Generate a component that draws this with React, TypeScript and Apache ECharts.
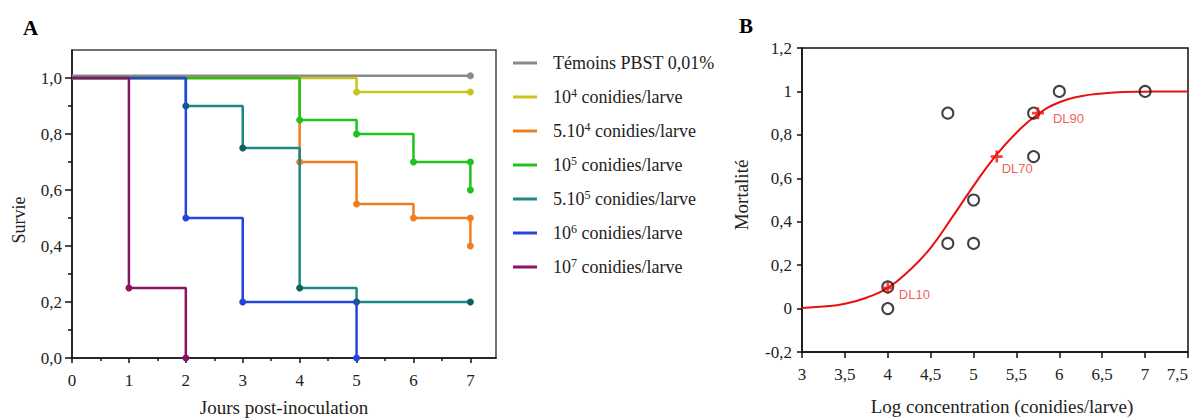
import React, { useEffect, useRef } from "react";
import * as echarts from "echarts";

// ---------- Panel A : survival ----------
const legendBase = ["Témoins PBST 0,01%", "10", "5.10", "10", "5.10", "10", "10"];
const legendExp = ["", "4", "4", "5", "5", "6", "7"];
const legendSuffix = ["", " conidies/larve", " conidies/larve", " conidies/larve", " conidies/larve", " conidies/larve", " conidies/larve"];
const seriesNames = [
  "Témoins PBST 0,01%",
  "10^4 conidies/larve",
  "5.10^4 conidies/larve",
  "10^5 conidies/larve",
  "5.10^5 conidies/larve",
  "10^6 conidies/larve",
  "10^7 conidies/larve",
];
const lineColors = ["#8a8a8a", "#cbc31e", "#f07e1e", "#1fc21f", "#1f8686", "#2345dc", "#8c1262"];
const dotColors = ["#8a8a8a", "#cbc31e", "#f07e1e", "#1fc21f", "#0f5f5f", "#2345dc", "#8c1262"];
const zOrder = [2, 3, 4, 6, 5, 7, 8];

const temoins = [[0, 1.008], [7, 1.008]];
const c1e4 = [[0, 1], [5, 0.95], [7, 0.95]];
const c5e4 = [[0, 1], [4, 0.7], [5, 0.55], [6, 0.5], [7, 0.5], [7, 0.4]];
const c1e5 = [[0, 1], [4, 0.85], [5, 0.8], [6, 0.7], [7, 0.7], [7, 0.6]];
const c5e5 = [[0, 1], [2, 0.9], [3, 0.75], [4, 0.25], [5, 0.2], [7, 0.2]];
const c1e6 = [[0, 1], [2, 0.5], [3, 0.2], [5, 0]];
const c1e7 = [[0, 1], [1, 0.25], [2, 0]];
const survivalData = [temoins, c1e4, c5e4, c1e5, c5e5, c1e6, c1e7];

const dayTicks = [0, 1, 2, 3, 4, 5, 6, 7];
const dayMinorTicks = [0.5, 1.5, 2.5, 3.5, 4.5, 5.5, 6.5];
const survieTicks = [0, 0.2, 0.4, 0.6, 0.8, 1.0];
const survieMinorTicks = [0.1, 0.3, 0.5, 0.7, 0.9];

// ---------- Panel B : dose-response ----------
const obsLog = [4, 4, 4.7, 4.7, 5, 5, 5.7, 5.7, 6, 7];
const obsMort = [0.1, 0, 0.9, 0.3, 0.5, 0.3, 0.9, 0.7, 1, 1];
const curveLog = [3, 3.25, 3.5, 3.75, 4, 4.25, 4.5, 4.75, 5, 5.25, 5.5, 5.75, 6, 6.25, 6.5, 6.75, 7, 7.25, 7.5];
const curveMort = [0.003, 0.009, 0.022, 0.05, 0.095, 0.175, 0.28, 0.42, 0.565, 0.7, 0.81, 0.895, 0.95, 0.978, 0.991, 0.997, 0.999, 1, 1];
const dlNames = ["DL10", "DL70", "DL90"];
const dlLog = [4.0, 5.27, 5.75];
const dlMort = [0.095, 0.7, 0.9];
const dlLabelOffsets = [[0, 7], [-6, 12], [4, 5]];

const SERIF = "Liberation Serif";
const SANS = "Liberation Sans";

const comma = (v: number) => String(+v.toFixed(2)).replace(".", ",");

export default function App() {
  const ref = useRef<HTMLDivElement>(null);
  useEffect(() => {
    if (!ref.current) return;
    const chart = echarts.init(ref.current, null, { renderer: "svg" });

    const survSeries = survivalData.map((pts, i) => ({
      type: "line",
      name: seriesNames[i],
      xAxisIndex: 0,
      yAxisIndex: 0,
      step: "end",
      z: zOrder[i],
      symbol: "circle",
      symbolSize: 7,
      showSymbol: true,
      lineStyle: { color: lineColors[i], width: 2.5 },
      itemStyle: { color: dotColors[i] },
      data: pts.map((p, j) => ({ value: p, symbol: j === 0 ? "none" : "circle" })),
    }));

    const axisLineStyle = { color: "#111", width: 1.5 };

    const option: any = {
      animation: false,
      backgroundColor: "#fff",
      textStyle: { fontFamily: SERIF, fontSize: 17 },
      grid: [
        { left: 72, top: 50, width: 424, height: 308, show: true, borderColor: "#444", borderWidth: 1.5 },
        { left: 802, top: 48, width: 386, height: 304, show: true, borderColor: "#111", borderWidth: 1.5 },
      ],
      xAxis: [
        {
          type: "value", gridIndex: 0, position: "bottom", min: 0, max: 7.45, interval: 1,
          axisLine: { show: true, onZero: false, lineStyle: axisLineStyle },
          axisTick: { show: true, length: 5, customValues: dayTicks, lineStyle: axisLineStyle },
          axisLabel: {
            fontFamily: SERIF, fontSize: 17, color: "#222",
            margin: 14, customValues: dayTicks, formatter: (v: number) => String(v),
          },
          splitLine: { show: false },
        },
        {
          type: "value", gridIndex: 0, position: "bottom", min: 0, max: 7.45,
          axisLine: { show: false },
          axisTick: { show: true, length: 3, customValues: dayMinorTicks, lineStyle: axisLineStyle },
          axisLabel: { show: false },
          splitLine: { show: false },
        },
        {
          type: "value", gridIndex: 1, position: "bottom", min: 3, max: 7.5, interval: 0.5,
          axisLine: { show: true, onZero: false, lineStyle: axisLineStyle },
          axisTick: { show: true, length: 6, lineStyle: axisLineStyle },
          axisLabel: {
            fontFamily: SERIF, fontSize: 17, color: "#222",
            margin: 14, formatter: comma, alignMaxLabel: "right",
          },
          splitLine: { show: false },
        },
      ],
      yAxis: [
        {
          type: "value", gridIndex: 0, position: "left", min: 0, max: 1.1, interval: 0.2,
          axisLine: { show: true, onZero: false, lineStyle: axisLineStyle },
          axisTick: { show: true, length: 7, customValues: survieTicks, lineStyle: axisLineStyle },
          axisLabel: {
            fontFamily: SERIF, fontSize: 17, color: "#222",
            margin: 10, customValues: survieTicks, formatter: (v: number) => v.toFixed(1).replace(".", ","),
          },
          splitLine: { show: false },
        },
        {
          type: "value", gridIndex: 0, position: "left", min: 0, max: 1.1,
          axisLine: { show: false },
          axisTick: { show: true, length: 4, customValues: survieMinorTicks, lineStyle: axisLineStyle },
          axisLabel: { show: false },
          splitLine: { show: false },
        },
        {
          type: "value", gridIndex: 1, position: "left", min: -0.2, max: 1.2, interval: 0.2,
          axisLine: { show: true, onZero: false, lineStyle: axisLineStyle },
          axisTick: { show: true, length: 5, lineStyle: axisLineStyle },
          axisLabel: {
            fontFamily: SERIF, fontSize: 17, color: "#222",
            margin: 10, formatter: comma,
          },
          splitLine: { show: false },
        },
      ],
      legend: {
        orient: "vertical",
        left: 508,
        top: 48,
        itemWidth: 24,
        itemHeight: 3,
        itemGap: 14,
        icon: "rect",
        selectedMode: false,
        data: seriesNames.map((n, i) => ({ name: n, itemStyle: { color: lineColors[i] } })),
        formatter: (name: string) => {
          const i = seriesNames.indexOf(name);
          if (!legendExp[i]) return legendBase[i];
          return `${legendBase[i]}{sup|${legendExp[i]}}${legendSuffix[i]}`;
        },
        textStyle: {
          fontFamily: SERIF,
          fontSize: 18,
          color: "#222",
          lineHeight: 20,
          padding: [0, 0, 0, 11],
          rich: {
            sup: { fontFamily: SERIF, fontSize: 12, color: "#222", verticalAlign: "top", lineHeight: 14 },
          },
        },
      },
      series: [
        ...survSeries,
        {
          type: "line",
          name: "curve",
          xAxisIndex: 2,
          yAxisIndex: 2,
          smooth: true,
          symbol: "none",
          z: 2,
          lineStyle: { color: "#e81010", width: 2 },
          data: curveLog.map((x, i) => [x, curveMort[i]]),
        },
        {
          type: "scatter",
          name: "obs",
          xAxisIndex: 2,
          yAxisIndex: 2,
          symbol: "circle",
          symbolSize: 11,
          z: 3,
          itemStyle: { color: "transparent", borderColor: "#111", borderWidth: 2 },
          data: obsLog.map((x, i) => [x, obsMort[i]]),
        },
        {
          type: "scatter",
          name: "DL",
          xAxisIndex: 2,
          yAxisIndex: 2,
          symbol: "path://M3.9,0H6.1V3.9H10V6.1H6.1V10H3.9V6.1H0V3.9H3.9Z",
          symbolSize: 12,
          z: 4,
          itemStyle: { color: "#f01010" },
          data: dlNames.map((n, i) => ({
            value: [dlLog[i], dlMort[i]],
            name: n,
            label: {
              show: true,
              position: "right",
              offset: dlLabelOffsets[i],
              formatter: n,
              fontFamily: SANS,
              fontSize: 13,
              color: "#f03030",
            },
          })),
        },
      ],
      graphic: [
        { type: "text", left: 23, top: 17, style: { text: "A", fontFamily: SERIF, fontSize: 21, fontWeight: "bold", fill: "#000" } },
        { type: "text", left: 739, top: 15, style: { text: "B", fontFamily: SERIF, fontSize: 21, fontWeight: "bold", fill: "#000" } },
        {
          type: "text", x: 19, y: 220, rotation: Math.PI / 2,
          style: { text: "Survie", fontFamily: SERIF, fontSize: 18, fill: "#222", align: "center", verticalAlign: "middle" },
        },
        {
          type: "text", x: 284, y: 407,
          style: { text: "Jours post-inoculation", fontFamily: SERIF, fontSize: 19, fill: "#222", align: "center", verticalAlign: "middle" },
        },
        {
          type: "text", x: 741, y: 195, rotation: Math.PI / 2,
          style: { text: "Mortalité", fontFamily: SERIF, fontSize: 19, fill: "#222", align: "center", verticalAlign: "middle" },
        },
        {
          type: "text", x: 1002, y: 406,
          style: { text: "Log concentration (conidies/larve)", fontFamily: SERIF, fontSize: 19, fill: "#222", align: "center", verticalAlign: "middle" },
        },
      ],
    };
    chart.setOption(option);
    return () => chart.dispose();
  }, []);
  return <div ref={ref} style={{ position: "fixed", left: 0, top: 0, width: 1197, height: 418, background: "#fff" }} />;
}
